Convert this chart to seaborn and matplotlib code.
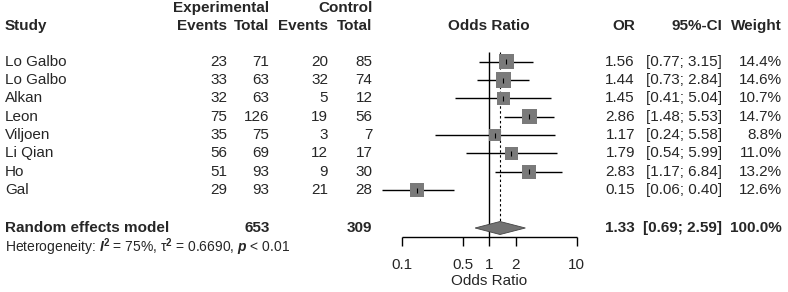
import numpy as np
import pandas as pd
import seaborn as sns
import matplotlib
matplotlib.use("Agg")
import matplotlib.pyplot as plt

# ---------------- data ----------------
studies = ["Lo Galbo", "Lo Galbo", "Alkan", "Leon", "Viljoen", "Li Qian", "Ho", "Gal"]
exp_events = [23, 33, 32, 75, 35, 56, 51, 29]
exp_total = [71, 63, 63, 126, 75, 69, 93, 93]
ctl_events = [20, 32, 5, 19, 3, 12, 9, 21]
ctl_total = [85, 74, 12, 56, 7, 17, 30, 28]
odds_ratio = [1.56, 1.44, 1.45, 2.86, 1.17, 1.79, 2.83, 0.15]
ci_low = [0.77, 0.73, 0.41, 1.48, 0.24, 0.54, 1.17, 0.06]
ci_high = [3.15, 2.84, 5.04, 5.53, 5.58, 5.99, 6.84, 0.40]
weights = [14.4, 14.6, 10.7, 14.7, 8.8, 11.0, 13.2, 12.6]
summary_label = "Random effects model"
summary_or = 1.33
summary_low = 0.69
summary_high = 2.59
summary_exp_total = 653
summary_ctl_total = 309
summary_weight = "100.0%"
heterogeneity = r"Heterogeneity: $\mathbfit{I}^{\mathbf{2}}$ = 75%, $\mathrm{\tau}^{\mathbf{2}}$ = 0.6690, $\mathbfit{p}$ < 0.01"
axis_ticks = [0.1, 0.5, 1, 2, 10]
axis_label = "Odds Ratio"

# ---------------- style ----------------
sns.set_theme(style="white")
FONT = "Liberation Sans"
plt.rcParams["font.family"] = [FONT, "DejaVu Sans"]
plt.rcParams["mathtext.fontset"] = "custom"
plt.rcParams["mathtext.rm"] = FONT
plt.rcParams["mathtext.it"] = FONT + ":italic"
plt.rcParams["mathtext.bf"] = FONT + ":bold"
plt.rcParams["mathtext.bfit"] = FONT + ":bold:italic"

W, H = 788, 292
DPI = 100
fig = plt.figure(figsize=(W / DPI, H / DPI), dpi=DPI)
fig.patch.set_facecolor("white")

# text layer in pixel coordinates
axt = fig.add_axes([0, 0, 1, 1])
axt.set_xlim(0, W)
axt.set_ylim(H, 0)
axt.axis("off")

# forest layer: log x mapped to pixels
X1 = 489.2          # pixel of OR = 1
PPD = 87.5          # pixels per decade
axf = fig.add_axes([0, 0, 1, 1])
axf.set_xscale("log")
axf.set_xlim(10 ** ((0 - X1) / PPD), 10 ** ((W - X1) / PPD))
axf.set_ylim(H, 0)
axf.axis("off")
axf.patch.set_alpha(0)

FS = 11
ROW0, DROW = 61.7, 18.35
rows = [ROW0 + i * DROW for i in range(len(studies))]
Y_HDR1, Y_HDR2 = 8, 26
Y_SUM = 228
Y_HET = 247.5
Y_AXIS = 236.5

# column right edges (pixels)
X_STUDY = 5
X_EE, X_ET, X_CE, X_CT = 227, 269.5, 328, 372.5
X_OR, X_CI, X_W = 635, 722, 782

# headers
axt.text(X_ET, Y_HDR1, "Experimental", ha="right", va="center", fontsize=FS, fontweight="bold")
axt.text(X_CT, Y_HDR1, "Control", ha="right", va="center", fontsize=FS, fontweight="bold")
axt.text(X_STUDY, Y_HDR2, "Study", ha="left", va="center", fontsize=FS, fontweight="bold")
for x, lab in [(X_EE, "Events"), (X_ET, "Total"), (X_CE, "Events"), (X_CT, "Total"),
               (X_OR, "OR"), (X_CI, "95%-CI"), (X_W, "Weight")]:
    axt.text(x, Y_HDR2, lab, ha="right", va="center", fontsize=FS, fontweight="bold")
axt.text(X1, Y_HDR2, "Odds Ratio", ha="center", va="center", fontsize=FS, fontweight="bold")

# study rows
for i, y in enumerate(rows):
    axt.text(X_STUDY, y, studies[i], ha="left", va="center", fontsize=FS)
    axt.text(X_EE, y, str(exp_events[i]), ha="right", va="center", fontsize=FS)
    axt.text(X_ET, y, str(exp_total[i]), ha="right", va="center", fontsize=FS)
    axt.text(X_CE, y, str(ctl_events[i]), ha="right", va="center", fontsize=FS)
    axt.text(X_CT, y, str(ctl_total[i]), ha="right", va="center", fontsize=FS)
    axt.text(X_OR, y, f"{odds_ratio[i]:.2f}", ha="right", va="center", fontsize=FS)
    axt.text(X_CI, y, f"[{ci_low[i]:.2f}; {ci_high[i]:.2f}]", ha="right", va="center", fontsize=FS)
    axt.text(X_W, y, f"{weights[i]:.1f}%", ha="right", va="center", fontsize=FS)

# summary row
axt.text(X_STUDY, Y_SUM, summary_label, ha="left", va="center", fontsize=FS, fontweight="bold")
axt.text(X_ET, Y_SUM, str(summary_exp_total), ha="right", va="center", fontsize=FS, fontweight="bold")
axt.text(X_CT, Y_SUM, str(summary_ctl_total), ha="right", va="center", fontsize=FS, fontweight="bold")
axt.text(X_OR, Y_SUM, f"{summary_or:.2f}", ha="right", va="center", fontsize=FS, fontweight="bold")
axt.text(X_CI, Y_SUM, f"[{summary_low:.2f}; {summary_high:.2f}]", ha="right", va="center",
         fontsize=FS, fontweight="bold")
axt.text(X_W, Y_SUM, summary_weight, ha="right", va="center", fontsize=FS, fontweight="bold")
axt.text(X_STUDY, Y_HET, heterogeneity, ha="left", va="center", fontsize=10)

# ---------------- forest ----------------
Y_TOP = 51.5
# reference lines
axf.vlines(1, Y_TOP, Y_AXIS, color="black", lw=1.0, zorder=1)
axf.vlines(summary_or, Y_TOP, Y_SUM - 6.5, color="black", lw=0.8, linestyles=(0, (2.2, 2.2)), zorder=1)

# confidence intervals
axf.hlines(rows, ci_low, ci_high, color="black", lw=1.0, zorder=2)

# squares (area proportional to weight)
df = pd.DataFrame({"or": odds_ratio, "y": rows, "w": weights})
K = 8.1
sns.scatterplot(data=df, x="or", y="y", size="w", sizes=(0, K * 100), size_norm=(0, 100),
                marker="s", color="#7a7a7a", linewidth=0, legend=False, ax=axf, zorder=3)
axf.set_xlim(10 ** ((0 - X1) / PPD), 10 ** ((W - X1) / PPD))
axf.set_ylim(H, 0)
axf.axis("off")
# point-estimate ticks
axf.vlines(odds_ratio, [y - 2.5 for y in rows], [y + 2.5 for y in rows], color="black", lw=0.8, zorder=4)

# summary diamond
dh = 6.5
axf.fill([summary_low, summary_or, summary_high, summary_or],
         [Y_SUM, Y_SUM - dh, Y_SUM, Y_SUM + dh],
         facecolor="#737373", edgecolor="#444444", lw=0.6, zorder=3)

# x axis
axf.hlines(Y_AXIS, axis_ticks[0], axis_ticks[-1], color="black", lw=1.0)
axf.vlines(axis_ticks, Y_AXIS, Y_AXIS + 9, color="black", lw=1.0)
for t in axis_ticks:
    axf.text(t, 265, f"{t:g}", ha="center", va="center", fontsize=FS)
axf.text(1, 281, axis_label, ha="center", va="center", fontsize=FS)

fig.savefig("out.png", dpi=DPI, facecolor="white")
